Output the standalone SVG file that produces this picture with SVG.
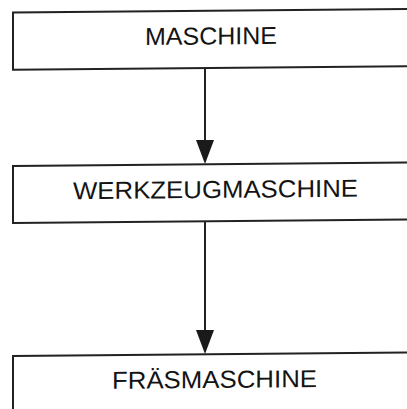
<svg xmlns="http://www.w3.org/2000/svg" width="407" height="409" viewBox="0 0 407 409">
  <defs>
    <style>
      .box { fill: #ffffff; stroke: #222222; stroke-width: 2; }
      .lbl { font-family: "Liberation Sans", Arial, sans-serif; font-size: 24.5px; fill: #141414; text-anchor: middle; }
      .conn { stroke: #222222; stroke-width: 2; fill: none; }
      .head { fill: #1a1a1a; stroke: none; }
    </style>
  </defs>
  <rect x="0" y="0" width="407" height="409" fill="#ffffff"/>
  <g transform="translate(205,0) skewY(-0.5) translate(-205,0)">
    <g id="connectors">
      <line class="conn" x1="205" y1="68" x2="205" y2="150"/>
      <polygon class="head" points="196,140 214,140 205,164"/>
      <line class="conn" x1="205" y1="221" x2="205" y2="340"/>
      <polygon class="head" points="196,330 214,330 205,354"/>
    </g>
    <g id="maschine">
      <rect class="box" x="13" y="10.8" width="410" height="57.3"/>
      <text class="lbl" x="211" y="44.5" textLength="132" lengthAdjust="spacingAndGlyphs">MASCHINE</text>
    </g>
    <g id="werkzeugmaschine">
      <rect class="box" x="13" y="164.3" width="410" height="57"/>
      <text class="lbl" x="215.5" y="198" textLength="285" lengthAdjust="spacingAndGlyphs">WERKZEUGMASCHINE</text>
    </g>
    <g id="fraesmaschine">
      <rect class="box" x="13" y="354.3" width="410" height="80"/>
      <text class="lbl" x="214.5" y="388" textLength="205" lengthAdjust="spacingAndGlyphs">FRÄSMASCHINE</text>
    </g>
  </g>
</svg>
